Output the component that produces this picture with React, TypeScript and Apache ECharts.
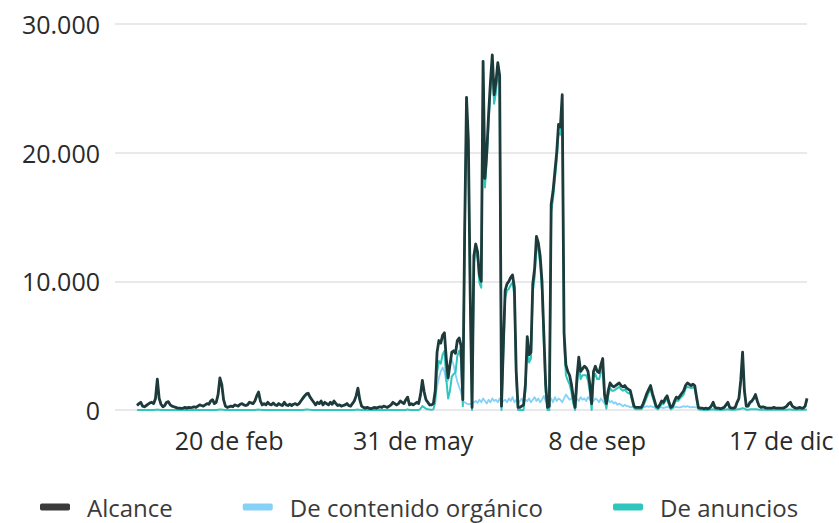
import React, { useEffect, useRef } from "react";
import * as echarts from "echarts";

// Daily values, 1 Jan – 31 Dec (non-leap year)
const reachJan = [350,500,600,300,250,350,450,550,600,500,900,2400,900,450,250,350,600,650,400,300,250,200,150,150,120,150,200,150,200,180,200];
const reachFeb = [250,200,300,400,350,300,400,500,450,700,800,500,600,1200,2500,2000,800,300,200,250,300,250,400,350,300,450,500,400];
const reachMar = [350,400,600,550,500,700,1100,1400,700,400,500,400,600,450,400,550,400,350,500,400,350,600,400,350,450,350,450,500,400,500,700];
const reachApr = [900,1100,1250,1300,1000,800,600,400,600,500,700,400,600,500,400,600,450,700,500,350,400,300,350,400,500,350,300,500,700,1100];
const reachMay = [1700,800,300,200,150,200,150,100,150,200,150,200,250,200,300,250,200,300,400,600,500,400,500,700,600,500,800,1000,400,500,400];
const reachJun = [500,600,500,1200,2300,1400,800,600,400,400,500,1500,4500,5400,5200,5800,6000,4000,2500,3500,4500,4600,4400,5400,5600,5000,800,14000,24300,21000];
const reachJul = [9000,200,12000,12900,12300,10500,10000,27100,18000,20000,23000,25500,27600,24500,25500,27000,26000,300,5000,9300,9800,10000,10300,10500,9500,3000,200,200,300,400,2000];
const reachAug = [5700,4300,4500,9800,11000,13500,13000,12000,10000,6000,2000,200,300,16000,17000,18500,20000,22200,22000,24500,6000,3500,3000,2700,2000,1000,200,2500,4100,3000,3200];
const reachSep = [3400,3300,3000,2000,500,3000,3400,3000,2900,3500,4000,1200,500,1500,2100,1900,1800,1900,2000,2100,1900,1800,1900,1700,1600,1500,900,300,200,200];
const reachOct = [200,200,500,900,1300,1600,1900,1300,800,300,200,400,700,600,900,1100,600,200,300,700,1000,900,1100,1300,1500,1900,2100,2000,1900,2000,1900];
const reachNov = [1000,200,150,150,100,150,100,150,300,600,200,150,150,100,150,200,400,600,200,150,150,200,600,900,2300,4500,1500,300,300,600];
const reachDec = [700,900,1200,700,300,200,250,200,150,150,150,150,200,150,150,150,150,150,200,300,500,600,300,200,150,150,200,150,150,300,900];

const orgJan = [320,470,560,280,230,330,420,520,560,470,850,2300,850,420,230,330,560,610,380,280,230,180,140,140,110,140,180,140,180,170,180];
const orgFeb = [230,180,280,370,330,280,370,470,420,650,750,470,560,1100,2400,1900,750,280,180,230,280,230,370,330,280,420,470,370];
const orgMar = [330,370,560,510,470,650,1000,1300,650,370,470,370,560,420,370,510,370,330,470,370,330,560,370,330,420,330,420,470,370,470,650];
const orgApr = [850,1000,1150,1200,950,750,560,370,560,470,650,370,560,470,370,560,420,650,470,330,370,280,330,370,470,330,280,470,650,1000];
const orgMay = [1600,750,280,180,140,180,140,90,140,180,140,180,230,180,280,230,180,280,370,560,470,370,470,650,560,470,750,900,370,470,370];
const orgJun = [470,560,470,1000,2000,1200,700,500,350,380,450,900,1800,2500,3000,3300,3000,2200,2300,3600,3900,3500,2800,2200,1800,1400,700,600,500,450];
const orgJul = [450,500,600,700,550,800,600,900,700,500,800,600,900,700,800,600,900,500,700,800,600,900,700,1000,600,800,500,700,900,600,800];
const orgAug = [700,900,600,800,1000,700,900,600,800,1100,700,500,800,900,600,1000,700,900,800,600,900,1200,1000,800,900,1100,600,900,700,1000,800];
const orgSep = [900,700,1000,800,600,700,900,800,600,900,700,500,600,800,600,700,500,600,400,500,400,300,400,300,300,200,250,200,150,150];
const orgOct = [150,150,200,250,300,250,300,250,200,150,150,200,200,150,200,250,200,150,150,200,250,200,200,250,300,250,300,250,200,250,200];
const orgNov = [200,150,120,120,90,130,90,130,250,500,170,130,130,90,130,170,350,500,170,130,130,170,500,800,2100,4200,1300,250,250,500];
const orgDec = [600,800,1100,600,250,170,200,170,130,130,130,130,170,130,130,130,130,130,170,250,450,550,250,170,130,130,170,130,130,250,800];

const adsJan = [0,0,0,0,0,0,0,0,0,0,10,40,10,0,0,0,0,0,0,0,0,0,0,0,0,0,0,0,0,0,0];
const adsFeb = [0,0,0,0,0,0,0,0,0,0,0,0,0,20,40,30,10,0,0,0,0,0,0,0,0,0,0,0];
const adsMar = [0,0,0,0,0,0,20,30,10,0,0,0,0,0,0,0,0,0,0,0,0,0,0,0,0,0,0,0,0,0,0];
const adsApr = [0,20,30,30,10,0,0,0,0,0,0,0,0,0,0,0,0,0,0,0,0,0,0,0,0,0,0,0,0,20];
const adsMay = [30,10,0,0,0,0,0,0,0,0,0,0,0,0,0,0,0,0,0,0,0,0,0,0,0,0,0,50,0,0,0];
const adsJun = [0,0,0,100,300,200,100,50,30,20,50,600,2900,3800,3600,4300,4600,2400,900,1500,2600,2800,2900,4200,4600,4000,300,13500,23600,20300];
const adsJul = [8600,0,11400,12400,11800,9900,9500,26300,17300,19400,22300,24800,26800,23800,24700,26300,25300,0,4400,8700,9300,9400,9700,9900,8900,2400,0,0,0,0,1500];
const adsAug = [5100,3700,4000,9200,10300,12900,12400,11400,9300,5300,1400,0,0,15400,16400,17900,19400,21500,21400,23800,5200,2700,2300,2000,1400,500,0,1900,3500,2400,2700];
const adsSep = [2700,2700,2300,1400,0,2500,2800,2400,2400,2900,3400,800,100,1100,1700,1500,1500,1600,1700,1800,1600,1500,1600,1400,1300,1300,700,150,50,50];
const adsOct = [50,50,300,650,1000,1350,1600,1050,600,150,50,200,500,450,700,850,400,50,150,500,750,700,900,1050,1200,1650,1800,1750,1700,1750,1700];
const adsNov = [800,50,20,20,0,10,0,10,30,50,20,10,10,0,10,20,30,50,20,10,10,20,50,50,100,150,100,20,20,50];
const adsDec = [50,50,50,50,20,10,20,10,10,10,10,10,10,10,10,10,10,10,10,20,30,30,20,10,10,10,10,10,10,20,50];

const tickDays = [50, 150, 250, 350];
const tickLabels = ["20 de feb", "31 de may", "8 de sep", "17 de dic"];
const yTicks = [0, 10000, 20000, 30000];
const seriesNames = ["Alcance", "De contenido orgánico", "De anuncios"];

const reach = [...reachJan, ...reachFeb, ...reachMar, ...reachApr, ...reachMay, ...reachJun, ...reachJul, ...reachAug, ...reachSep, ...reachOct, ...reachNov, ...reachDec];
const organic = [...orgJan, ...orgFeb, ...orgMar, ...orgApr, ...orgMay, ...orgJun, ...orgJul, ...orgAug, ...orgSep, ...orgOct, ...orgNov, ...orgDec];
const ads = [...adsJan, ...adsFeb, ...adsMar, ...adsApr, ...adsMay, ...adsJun, ...adsJul, ...adsAug, ...adsSep, ...adsOct, ...adsNov, ...adsDec];

const FONT = "'Open Sans', 'Noto Sans', sans-serif";

function fmt(v: number) {
  return String(v).replace(/\B(?=(\d{3})+(?!\d))/g, ".");
}

export default function App() {
  const ref = useRef<HTMLDivElement>(null);
  useEffect(() => {
    if (!ref.current) return;
    const chart = echarts.init(ref.current, null, { renderer: "svg" });
    const toPairs = (arr: number[]) => arr.map((v, i) => [i, v]);
    chart.setOption({
      animation: false,
      backgroundColor: "#ffffff",
      textStyle: { fontFamily: FONT },
      grid: { left: 115, right: 32, top: 24, bottom: 113, containLabel: false },
      legend: {
        left: 40,
        top: 495,
        padding: 0,
        itemWidth: 30,
        itemHeight: 7,
        itemGap: 70,
        icon: "roundRect",
        textStyle: { fontSize: 24, lineHeight: 24, color: "#3a3a3a", fontFamily: FONT, padding: [0, 0, 0, 12] },
        data: [
          { name: seriesNames[0], itemStyle: { color: "#3a3a3a" } },
          { name: seriesNames[1], itemStyle: { color: "#86d2f6" } },
          { name: seriesNames[2], itemStyle: { color: "#2fc6bd" } },
        ],
      },
      xAxis: {
        type: "value",
        min: -12,
        max: 364,
        splitLine: { show: false },
        axisLine: { show: false },
        axisTick: { show: false },
        axisLabel: {
          customValues: tickDays,
          formatter: (v: number) => {
            const i = tickDays.indexOf(v);
            return i >= 0 ? tickLabels[i] : "";
          },
          fontSize: 25,
          color: "#2a2a2a",
          fontFamily: FONT,
          margin: 17,
        },
      },
      yAxis: {
        type: "value",
        min: 0,
        max: 30000,
        interval: 10000,
        axisLine: { show: false },
        axisTick: { show: false },
        splitLine: { lineStyle: { color: "#e2e2e2", width: 1.5 } },
        axisLabel: {
          customValues: yTicks,
          formatter: (v: number) => fmt(v),
          fontSize: 25,
          color: "#2a2a2a",
          fontFamily: FONT,
          margin: 15,
        },
      },
      series: [
        {
          name: seriesNames[0],
          type: "line",
          data: toPairs(reach),
          showSymbol: false,
          z: 5,
          color: "#1d3b3b",
          lineStyle: { width: 2.8, color: "#1d3b3b", join: "round" },
        },
        {
          name: seriesNames[1],
          type: "line",
          data: toPairs(organic),
          showSymbol: false,
          z: 3,
          color: "#86d2f6",
          lineStyle: { width: 1.8, color: "#86d2f6", join: "round" },
        },
        {
          name: seriesNames[2],
          type: "line",
          data: toPairs(ads),
          showSymbol: false,
          z: 4,
          color: "#2fc6bd",
          lineStyle: { width: 2, color: "#2fc6bd", join: "round" },
        },
      ],
    });
    return () => chart.dispose();
  }, []);
  return (
    <div
      ref={ref}
      style={{ position: "fixed", left: 0, top: 0, width: 839, height: 523, background: "#fff" }}
    />
  );
}
